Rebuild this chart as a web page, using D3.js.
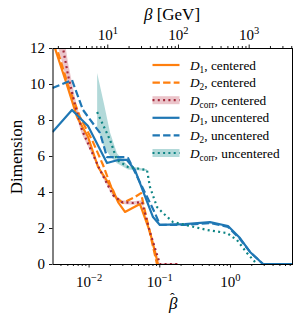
<!DOCTYPE html>
<html><head><meta charset="utf-8">
<script src="https://cdn.jsdelivr.net/npm/d3@7"></script>
<style>body{margin:0;background:#fff}svg{display:block}</style>
</head><body><svg id="c" width="305" height="320"></svg>
<script>
// ---- data ----
const bhat_D1c = [0.00313,0.00479,0.00686,0.00981,0.0136,0.0221,0.0261,0.0327,0.0533,0.0738,0.0959];
const D1c      = [12.33,10.11,8.17,7.06,5.39,4.11,3.44,2.89,3.33,1.78,0];

const bhat_D2c = [0.00335,0.00511,0.00756,0.0112,0.0160,0.0236,0.0307,0.0453,0.0551,0.0670,0.0927];
const D2c      = [12.33,9.94,8.17,6.89,5.5,3.72,3.39,3.72,3.94,2.44,0];

const bhat_Dcc = [0.00369,0.00434,0.00511,0.00642,0.00807,0.0105,0.0145,0.0221,0.0297,0.0425,0.0569,0.0738,0.102,0.184];
const Dcc      = [13.3,12.0,10.5,8.83,7.44,6.44,5.22,3.83,3.44,3.39,3.44,1.78,0,0];
const Dcc_lo   = [12.1,11.0,9.8,8.43,7.19,6.29,5.1,3.73,3.34,3.29,3.34,1.7,0,0];
const Dcc_hi   = [14.5,13.0,11.2,9.23,7.69,6.59,5.34,3.93,3.54,3.49,3.54,1.86,0.05,0.05];

const bhat_D1u = [0.003086,0.00582,0.00981,0.0182,0.0261,0.0349,0.0453,0.0815,0.102,0.231,0.521,0.937,1.385,1.92,2.93,7.66];
const D1u      = [7.33,8.56,7.67,5.61,5.78,5.78,5.22,2.61,2.17,2.22,2.33,2.11,1.44,0.67,0,0];

const bhat_D2u = [0.003086,0.00582,0.00833,0.0145,0.0182,0.0327,0.0361,0.0869,0.102,0.231,0.521,0.937,1.385,1.92,2.93,7.66];
const D2u      = [9.78,10.22,8.56,7.28,5.94,5.94,5.89,2.83,2.17,2.17,2.28,2.06,1.39,0.67,0,0];

const bhat_Dcu = [0.0132,0.0201,0.0252,0.0361,0.0670,0.0738,0.0927,0.113,0.156,0.473,0.907,1.256,1.74,2.26];
const Dcu      = [8.44,6.89,5.78,5.39,5.22,4.28,3.17,2.83,2.33,1.89,1.72,1.33,0.61,0.11];
const bhat_Dcu_band = [0.0132,0.0165,0.0201,0.0252,0.0361,0.0670];
const Dcu_lo   = [7.61,6.5,6.0,5.6,5.25,5.17];
const Dcu_hi   = [10.61,8.9,7.3,6.15,5.45,5.27];

const yTicks = [0,2,4,6,8,10,12];
const xTicks = [0.01,0.1,1];
const xTickExp = ["−2","−1","0"];
const topTicks = [10,100,1000];
const topTickExp = ["1","2","3"];
const bhatDomain = [0.003086, 7.66];
const betaDomain = [1.679, 4167];   // beta [GeV] for the same range

// ---- layout ----
const L=52.5, R=292.5, T=48, B=264;
const FONT="Liberation Serif, Times New Roman, serif";
const svg=d3.select("#c");
const x=d3.scaleLog().domain(bhatDomain).range([L,R]);
const xt=d3.scaleLog().domain(betaDomain).range([L,R]);
const y=d3.scaleLinear().domain([0,12]).range([B,T]);

svg.append("defs").append("clipPath").attr("id","clip")
  .append("rect").attr("x",L).attr("y",T).attr("width",R-L).attr("height",B-T);
const plot=svg.append("g").attr("clip-path","url(#clip)");

const zipS=(xs,ys)=>xs.map((v,i)=>[v,ys[i]]);
const line=d3.line().x(d=>x(d[0])).y(d=>y(d[1]));
const area=d3.area().x(d=>x(d[0])).y0(d=>y(d[1])).y1(d=>y(d[2]));

const C_OR="#ff7f0e", C_BL="#1f77b4", C_RD="#a3293b", C_TL="#0e8585";
const BAND_RD="rgba(190,60,80,0.3)", BAND_TL="rgba(0,128,128,0.3)";

plot.append("path").datum(bhat_Dcc.map((v,i)=>[v,Dcc_lo[i],Dcc_hi[i]]))
  .attr("d",area).attr("fill",BAND_RD);
plot.append("path").datum(bhat_Dcu_band.map((v,i)=>[v,Dcu_lo[i],Dcu_hi[i]]))
  .attr("d",area).attr("fill",BAND_TL);

const series=[
  {xs:bhat_D1c,ys:D1c,c:C_OR,dash:null},
  {xs:bhat_D2c,ys:D2c,c:C_OR,dash:"7.4,3.2"},
  {xs:bhat_Dcc,ys:Dcc,c:C_RD,dash:"2,3.3"},
  {xs:bhat_D1u,ys:D1u,c:C_BL,dash:null},
  {xs:bhat_D2u,ys:D2u,c:C_BL,dash:"7.4,3.2"},
  {xs:bhat_Dcu,ys:Dcu,c:C_TL,dash:"2,3.3"},
];
series.forEach(s=>{
  plot.append("path").datum(zipS(s.xs,s.ys)).attr("d",line)
    .attr("fill","none").attr("stroke",s.c).attr("stroke-width",2.2)
    .attr("stroke-linejoin","round")
    .attr("stroke-dasharray",s.dash);
});

// ---- axes ----
function minorTicks(dom){
  const out=[];
  for(let e=Math.floor(Math.log10(dom[0]));e<=Math.ceil(Math.log10(dom[1]));e++)
    for(let k=2;k<=9;k++){const v=k*Math.pow(10,e); if(v>=dom[0]&&v<=dom[1]) out.push(v);}
  return out;
}
const noLabel=()=>"";
function styleAxis(g){
  g.selectAll("path").attr("stroke","#000").attr("stroke-width",1);
  g.selectAll("line").attr("stroke","#000").attr("stroke-width",0.9);
  g.selectAll("text").attr("font-family",FONT).attr("font-size",15).attr("fill","#000");
}
function supLabels(g,exps){
  g.selectAll(".tick text").each(function(d,i){
    const t=d3.select(this); t.text(null);
    t.append("tspan").text("10");
    t.append("tspan").attr("dy",-6).attr("font-size",10.5).text(exps[i]);
  });
}
// bottom
const gb=svg.append("g").attr("transform",`translate(0,${B})`);
gb.append("g").call(d3.axisBottom(x).tickValues(minorTicks(bhatDomain)).tickSize(2).tickFormat(noLabel).tickSizeOuter(0));
const gbM=gb.append("g").call(d3.axisBottom(x).tickValues(xTicks).tickSize(3.5).tickPadding(5).tickSizeOuter(0));
styleAxis(gb);
supLabels(gbM,xTickExp);
gbM.selectAll(".tick text").attr("dy","0.95em");
// top
const gt=svg.append("g").attr("transform",`translate(0,${T})`);
gt.append("g").call(d3.axisTop(xt).tickValues(minorTicks(betaDomain)).tickSize(2).tickFormat(noLabel).tickSizeOuter(0));
const gtM=gt.append("g").call(d3.axisTop(xt).tickValues(topTicks).tickSize(3.5).tickPadding(5).tickSizeOuter(0));
styleAxis(gt);
supLabels(gtM,topTickExp);
// left
const gl=svg.append("g").attr("transform",`translate(${L},0)`);
gl.call(d3.axisLeft(y).tickValues(yTicks).tickSize(3.5).tickPadding(4).tickSizeOuter(0));
styleAxis(gl);
// right spine
svg.append("line").attr("x1",R).attr("x2",R).attr("y1",T).attr("y2",B).attr("stroke","#000");

// axis labels
svg.append("text").attr("transform",`translate(22,157) rotate(-90)`).attr("text-anchor","middle")
  .attr("font-family",FONT).attr("font-size",17).text("Dimension");
const tl=svg.append("text").attr("x",172).attr("y",20).attr("text-anchor","middle")
  .attr("font-family",FONT).attr("font-size",17);
tl.append("tspan").attr("font-style","italic").text("β");
tl.append("tspan").text(" [GeV]");
const xl=svg.append("text").attr("x",169).attr("y",309)
  .attr("font-family",FONT).attr("font-size",17);
xl.append("tspan").attr("font-style","italic").text("β");
xl.append("tspan").attr("dx",-7.5).attr("dy",-6).attr("font-size",14).text("ˆ");

// ---- legend ----
const legend=[
  {sub:"1",rest:", centered",c:C_OR,dash:null,band:null},
  {sub:"2",rest:", centered",c:C_OR,dash:"7.4,3.2",band:null},
  {sub:"corr",rest:", centered",c:C_RD,dash:"2,3.3",band:BAND_RD},
  {sub:"1",rest:", uncentered",c:C_BL,dash:null,band:null},
  {sub:"2",rest:", uncentered",c:C_BL,dash:"7.4,3.2",band:null},
  {sub:"corr",rest:", uncentered",c:C_TL,dash:"2,3.3",band:BAND_TL},
];
const lg=svg.append("g");
legend.forEach((e,i)=>{
  const yy=65+i*17.6;
  if(e.band) lg.append("rect").attr("x",152.5).attr("y",yy-4).attr("width",27).attr("height",8).attr("fill",e.band);
  lg.append("line").attr("x1",152.5).attr("x2",179.5).attr("y1",yy).attr("y2",yy)
    .attr("stroke",e.c).attr("stroke-width",2.2).attr("stroke-dasharray",e.dash);
  const t=lg.append("text").attr("x",190).attr("y",yy+4.5).attr("font-family",FONT).attr("font-size",13.3);
  t.append("tspan").attr("font-style","italic").text("D");
  t.append("tspan").attr("font-size",9.3).attr("dy",3).text(e.sub);
  t.append("tspan").attr("dy",-3).text(e.rest);
});
</script></body></html>
